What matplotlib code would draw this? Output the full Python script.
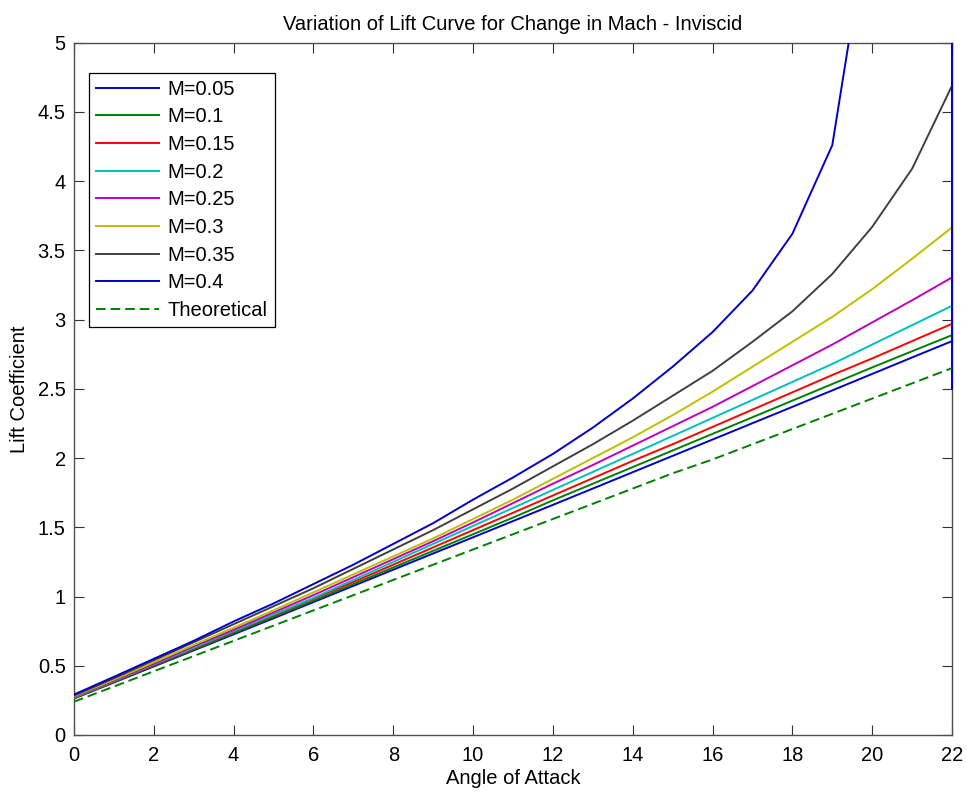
import matplotlib
matplotlib.use("Agg")
import matplotlib.pyplot as plt
from matplotlib.ticker import FuncFormatter
from matplotlib.patches import Rectangle

plt.rcParams['font.family'] = ['Liberation Sans', 'DejaVu Sans']

# Data
alpha = [0, 1, 2, 3, 4, 5, 6, 7, 8, 9, 10, 11, 12, 13, 14, 15, 16, 17, 18, 19, 20, 21, 22]

cl_m005 = [0.263, 0.379, 0.495, 0.611, 0.727, 0.843, 0.960, 1.077, 1.194, 1.311, 1.428, 1.545,
           1.662, 1.780, 1.898, 2.016, 2.134, 2.252, 2.370, 2.489, 2.608, 2.727, 2.845]
cl_m010 = [0.265, 0.382, 0.500, 0.617, 0.735, 0.853, 0.970, 1.090, 1.210, 1.330, 1.450, 1.570,
           1.695, 1.815, 1.935, 2.055, 2.175, 2.295, 2.415, 2.535, 2.655, 2.772, 2.888]
cl_m015 = [0.267, 0.385, 0.505, 0.625, 0.745, 0.865, 0.985, 1.105, 1.230, 1.355, 1.480, 1.605,
           1.730, 1.855, 1.980, 2.100, 2.225, 2.350, 2.475, 2.600, 2.720, 2.845, 2.970]
cl_m020 = [0.270, 0.390, 0.510, 0.630, 0.750, 0.870, 0.990, 1.120, 1.250, 1.380, 1.510, 1.640,
           1.770, 1.900, 2.030, 2.160, 2.290, 2.420, 2.550, 2.680, 2.820, 2.960, 3.100]
cl_m025 = [0.275, 0.395, 0.515, 0.640, 0.760, 0.885, 1.010, 1.140, 1.270, 1.400, 1.535, 1.675,
           1.815, 1.950, 2.090, 2.230, 2.370, 2.520, 2.670, 2.820, 2.980, 3.140, 3.305]
cl_m030 = [0.280, 0.400, 0.525, 0.650, 0.775, 0.900, 1.030, 1.160, 1.290, 1.420, 1.560, 1.700,
           1.850, 2.000, 2.150, 2.310, 2.480, 2.660, 2.840, 3.020, 3.220, 3.440, 3.666]
cl_m035 = [0.285, 0.410, 0.540, 0.670, 0.800, 0.930, 1.060, 1.200, 1.340, 1.480, 1.630, 1.780,
           1.940, 2.100, 2.270, 2.450, 2.630, 2.840, 3.060, 3.330, 3.670, 4.090, 4.690]
cl_m040 = [0.292, 0.420, 0.550, 0.680, 0.820, 0.950, 1.090, 1.230, 1.380, 1.530, 1.700, 1.860,
           2.030, 2.220, 2.430, 2.660, 2.910, 3.210, 3.620, 4.260, 6.060, 5000.0, 2.500]

cl_theory = [0.24, 0.35, 0.46, 0.57, 0.68, 0.79, 0.90, 1.01, 1.12, 1.23, 1.34, 1.45,
             1.56, 1.67, 1.78, 1.89, 1.99, 2.10, 2.21, 2.32, 2.43, 2.54, 2.65]

series = [
    ("M=0.05", cl_m005),
    ("M=0.1", cl_m010),
    ("M=0.15", cl_m015),
    ("M=0.2", cl_m020),
    ("M=0.25", cl_m025),
    ("M=0.3", cl_m030),
    ("M=0.35", cl_m035),
    ("M=0.4", cl_m040),
]
colors = ['#0000c8', '#008000', '#ff0000', '#00bfbf', '#bf00bf', '#bfbf00', '#404040', '#0000c8']

fig = plt.figure(figsize=(9.67, 7.92), dpi=100)
ax = fig.add_axes([0.0765, 0.072, 0.9080, 0.874])

for (label, vals), c in zip(series, colors):
    ln, = ax.plot(alpha, vals, color=c, lw=1.4, label=label, zorder=3)
    ln.set_clip_path(Rectangle((0, 0), 1.002, 1, transform=ax.transAxes))
ax.plot(alpha, cl_theory, color='#008000', lw=1.4, linestyle=(0, (5, 2.5)),
        label='Theoretical', zorder=3)

ax.set_xlim(0, 22)
ax.set_ylim(0, 5)
ax.set_xticks(range(0, 23, 2))
ax.set_yticks([0, 0.5, 1, 1.5, 2, 2.5, 3, 3.5, 4, 4.5, 5])
ax.yaxis.set_major_formatter(FuncFormatter(lambda v, p: f"{v:g}"))
ax.tick_params(direction='in', length=7, width=0.8, top=True, right=True,
               labelsize=14.5, color='#303030')
ax.tick_params(axis='x', pad=8)
ax.tick_params(axis='y', pad=6)
for s in ax.spines.values():
    s.set_color('#505050')
    s.set_linewidth(1.0)

ax.set_title('Variation of Lift Curve for Change in Mach - Inviscid', fontsize=14.5, pad=9)
ax.set_xlabel('Angle of Attack', fontsize=14.5, labelpad=3)
ax.set_ylabel('Lift Coefficient', fontsize=14.5, labelpad=6)

leg = ax.legend(loc='upper left', bbox_to_anchor=(0.0174, 0.9567), borderaxespad=0,
                fontsize=14.5, fancybox=False, framealpha=1, edgecolor='black',
                handlelength=3.1, handletextpad=0.45, labelspacing=0.43,
                borderpad=0.35)
leg.get_frame().set_linewidth(0.9)

fig.savefig('out.png', dpi=100)
